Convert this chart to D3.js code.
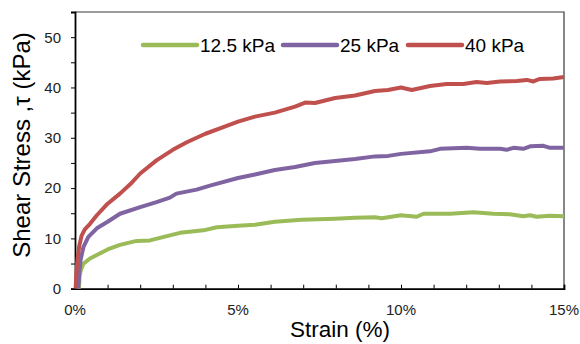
<!DOCTYPE html>
<html>
<head>
<meta charset="utf-8">
<script src="https://cdn.jsdelivr.net/npm/d3@7"></script>
<style>
  html, body { margin: 0; padding: 0; background: #fff; }
  svg { display: block; font-family: "Liberation Sans", Arial, sans-serif; }
</style>
</head>
<body>
<svg id="chart" width="580" height="344"></svg>
<script>
// Shear stress (kPa) versus strain (%) under three normal stresses
const seriesNames = ["12.5 kPa", "25 kPa", "40 kPa"];
const seriesColors = ["#9BBB59", "#8064A2", "#C0504D"];

const curve12_5 = [[0.12,0],[0.14,2.5],[0.18,3.7],[0.26,5.0],[0.46,6.0],[0.67,6.7],[1.0,7.8],[1.38,8.7],[1.89,9.5],[2.3,9.6],[2.91,10.6],[3.22,11.1],[3.94,11.6],[4.35,12.2],[5.0,12.5],[5.52,12.7],[6.13,13.3],[6.95,13.7],[7.98,13.9],[8.59,14.1],[9.2,14.2],[9.41,14.0],[10.0,14.6],[10.48,14.3],[10.69,14.9],[11.5,14.9],[12.22,15.2],[12.83,14.9],[13.34,14.8],[13.75,14.4],[13.96,14.6],[14.16,14.3],[14.57,14.5],[15.0,14.4]];

const curve25 = [[0.1,0],[0.13,3],[0.17,5.7],[0.26,8.3],[0.41,10.3],[0.67,12.0],[1.0,13.3],[1.38,14.9],[2.0,16.2],[2.5,17.2],[2.91,18.1],[3.11,18.9],[3.73,19.7],[4.14,20.5],[5.0,22.0],[5.52,22.7],[6.13,23.6],[6.75,24.2],[7.36,25.0],[7.98,25.4],[8.59,25.8],[9.2,26.3],[9.61,26.4],[10.0,26.8],[10.89,27.3],[11.2,27.8],[12.02,28.0],[12.42,27.8],[13.04,27.8],[13.24,27.6],[13.45,28.0],[13.75,27.8],[13.96,28.3],[14.37,28.4],[14.57,28.0],[15.0,28.0]];

const curve40 = [[0.02,0],[0.04,3],[0.08,6],[0.13,8.5],[0.2,10.5],[0.3,11.8],[0.46,12.9],[0.67,14.6],[1.0,16.9],[1.38,18.9],[1.7,20.8],[2.0,22.9],[2.5,25.5],[3.0,27.6],[3.43,29.1],[4.0,30.8],[4.55,32.1],[5.0,33.2],[5.52,34.2],[6.13,35.0],[6.75,36.2],[7.06,37.0],[7.36,36.9],[7.98,37.9],[8.59,38.4],[9.2,39.3],[9.6,39.5],[10.0,40.0],[10.33,39.5],[10.89,40.3],[11.4,40.7],[11.91,40.7],[12.32,41.1],[12.63,40.9],[13.04,41.2],[13.55,41.3],[13.86,41.5],[14.06,41.2],[14.26,41.7],[14.67,41.8],[15.0,42.1]];

const seriesData = [curve12_5, curve25, curve40];

const xMajorTicks = [0, 5, 10, 15];
const xMinorTicks = d3.range(0, 16, 1);
const yMajorTicks = [0, 10, 20, 30, 40, 50];
const yMinorTicks = d3.range(0, 56, 5);

const xTitle = "Strain (%)";
const yTitle = "Shear Stress ,τ (kPa)";

const svg = d3.select("#chart");
const plot = { left: 75, right: 564, top: 12, bottom: 288.7 };

const x = d3.scaleLinear().domain([0, 15]).range([plot.left, plot.right]);
const y = d3.scaleLinear().domain([0, 55]).range([plot.bottom, plot.top]);

// plot frame (top and right edges)
svg.append("path")
  .attr("d", `M${plot.left},${plot.top}H${plot.right}V${plot.bottom}`)
  .attr("fill", "none").attr("stroke", "#3a3a3a").attr("stroke-width", 1.2);

// x axis: inward minor ticks every 1 %, labels every 5 %
const xAxis = svg.append("g").attr("transform", `translate(0,${plot.bottom})`);
xAxis.call(d3.axisBottom(x).tickValues(xMinorTicks).tickSize(-4).tickFormat(""));
xAxis.select(".domain").attr("stroke", "#000").attr("stroke-width", 1.8);
xAxis.selectAll(".tick line").attr("stroke", "#000").attr("stroke-width", 1);
xAxis.selectAll(".xlab").data(xMajorTicks).enter().append("text")
  .attr("class", "xlab")
  .attr("x", d => x(d)).attr("y", 26)
  .attr("text-anchor", "middle").attr("fill", "#222")
  .style("font-size", "15px")
  .text(d => d + "%");

// y axis: outward ticks every 5, labels every 10
const yAxis = svg.append("g").attr("transform", `translate(${plot.left},0)`);
yAxis.call(d3.axisLeft(y).tickValues(yMinorTicks).tickSize(4).tickFormat(""));
yAxis.select(".domain").attr("stroke", "#000").attr("stroke-width", 1.8);
yAxis.selectAll(".tick line").attr("stroke", "#000").attr("stroke-width", 1);
yAxis.selectAll(".ylab").data(yMajorTicks).enter().append("text")
  .attr("class", "ylab")
  .attr("x", -14).attr("y", d => y(d)).attr("dy", "0.36em")
  .attr("text-anchor", "end").attr("fill", "#222")
  .style("font-size", "15px")
  .text(d => d);

// curves
const line = d3.line().x(d => x(d[0])).y(d => y(d[1]));
svg.append("g").selectAll("path").data(seriesData).enter().append("path")
  .attr("d", line)
  .attr("fill", "none")
  .attr("stroke", (d, i) => seriesColors[i])
  .attr("stroke-width", 4)
  .attr("stroke-linejoin", "round");

// axis titles
svg.append("text")
  .attr("x", 340).attr("y", 337)
  .attr("text-anchor", "middle").attr("fill", "#000")
  .style("font-size", "22.5px")
  .text(xTitle);
svg.append("text")
  .attr("transform", `translate(30,${(28 + 262) / 2}) rotate(-90)`)
  .attr("text-anchor", "middle").attr("fill", "#000")
  .style("font-size", "24px")
  .text(yTitle);

// legend
const legendX = [143, 283, 408];
const legend = svg.append("g");
seriesNames.forEach((name, i) => {
  const g = legend.append("g").attr("transform", `translate(${legendX[i]},45)`);
  g.append("line").attr("x1", 0).attr("x2", 54).attr("y1", 0).attr("y2", 0)
    .attr("stroke", seriesColors[i]).attr("stroke-width", 4.5).attr("stroke-linecap", "round");
  g.append("text").attr("x", 57).attr("y", 0).attr("dy", "0.36em")
    .attr("fill", "#000").style("font-size", "19px").text(name);
});
</script>
</body>
</html>
